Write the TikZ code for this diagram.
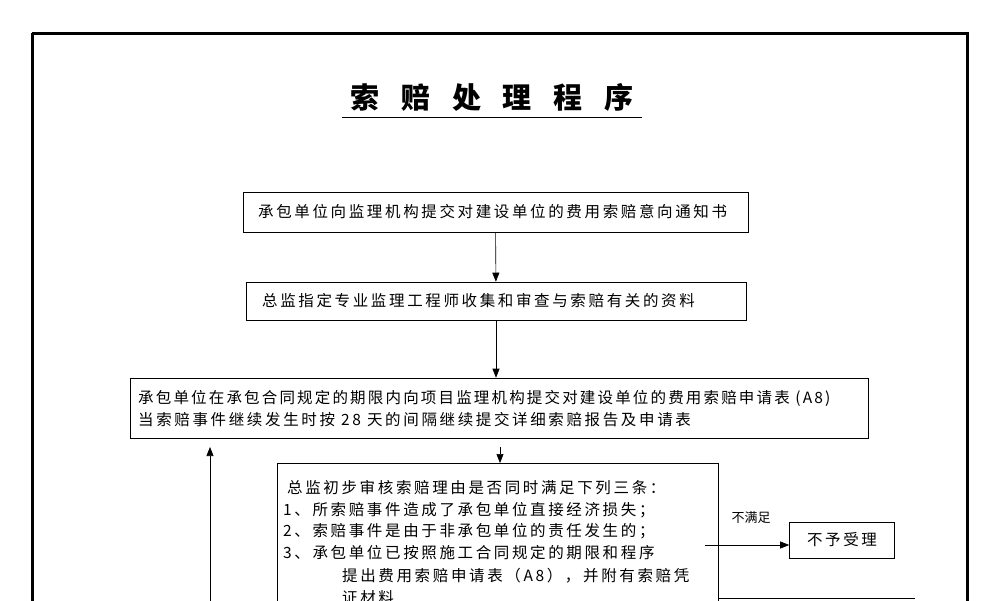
\documentclass[tikz,border=0pt]{standalone}
\usepackage{fontspec}
\setmainfont{Noto Sans CJK SC}
\usetikzlibrary{arrows.meta}
\tikzset{box/.style={draw,semithick,inner sep=0pt},arr/.style={semithick,-{Triangle[length=9pt,width=7pt]}},txt/.style={font=\fontsize{15.5}{18}\selectfont\addfontfeature{LetterSpace=17},anchor=west,inner sep=0pt}}
\begin{document}
\begin{tikzpicture}[x=1pt,y=-1pt]
\useasboundingbox (0,0) rectangle (1000,600);
\begin{scope}
\clip (0,0) rectangle (1000,600);
\draw[line width=3pt] (32,33) -- (967,33) -- (967,620) (32,33) -- (32,620);
\node[font=\fontsize{29}{34}\selectfont\bfseries] (title) at (492,97) {索\hspace{0.75em}赔\hspace{0.75em}处\hspace{0.75em}理\hspace{0.75em}程\hspace{0.75em}序};
\draw[thick] (342,117) -- (642,117);
\node[box,minimum width=505pt,minimum height=40pt] (b1) at (495.5,212) {};
\node[txt] at (258,212) {承包单位向监理机构提交对建设单位的费用索赔意向通知书};
\node[box,minimum width=500pt,minimum height=38pt] (b2) at (496,301) {};
\node[txt] at (262,301) {总监指定专业监理工程师收集和审查与索赔有关的资料};
\node[box,minimum width=738pt,minimum height=60pt] (b3) at (499,408) {};
\node[txt,font=\fontsize{15.5}{18}\selectfont\addfontfeature{LetterSpace=14}] at (138,398) {承包单位在承包合同规定的期限内向项目监理机构提交对建设单位的费用索赔申请表 (A8)};
\node[txt] at (138,420) {当索赔事件继续发生时按 28 天的间隔继续提交详细索赔报告及申请表};
\draw[semithick] (277,640) |- (718,463) -- (718,640);
\coordinate (b4top) at (500,463);
\node[txt] at (287,488) {总监初步审核索赔理由是否同时满足下列三条：};
\node[txt] at (283,510) {1、所索赔事件造成了承包单位直接经济损失；};
\node[txt] at (283,531) {2、索赔事件是由于非承包单位的责任发生的；};
\node[txt] at (283,553) {3、承包单位已按照施工合同规定的期限和程序};
\node[txt] at (342,576) {提出费用索赔申请表（A8），并附有索赔凭};
\node[txt] at (342,598) {证材料};
\node[box,minimum width=105pt,minimum height=36pt,font=\fontsize{15.5}{18}\selectfont\addfontfeature{LetterSpace=17}] (no) at (842,540) {不予受理};
\coordinate (d) at (705,545);
\node[font=\fontsize{13}{15}\selectfont] (lab) at (751,518) {不满足};
\draw[arr] (d) -- (no.west|-d);
\draw[arr] (b1) -- (b2);
\draw[arr] (b2) -- (b3.north-|b2);
\draw[arr] (500,447) -- (b4top);
\coordinate (lb) at (210,640);
\draw[arr] (lb) -- (210,447);
\draw[semithick] (718,598) -- (915,598);
\end{scope}
\end{tikzpicture}
\end{document}
